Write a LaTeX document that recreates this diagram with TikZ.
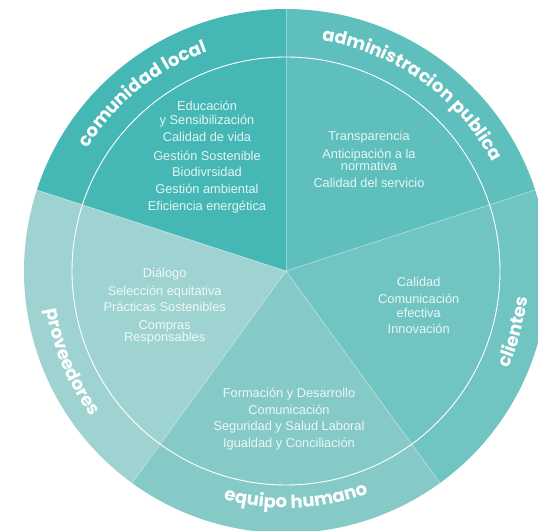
\documentclass[tikz,border=0pt]{standalone}
\usepackage{fontspec}
\usetikzlibrary{decorations.text}
\newfontfamily\itemfont{Liberation Sans}
\newfontfamily\ringfont{Poppins}
\definecolor{cCom}{HTML}{45B8B6}
\definecolor{cAdm}{HTML}{5EBFBC}
\definecolor{cCli}{HTML}{70C4C1}
\definecolor{cEqu}{HTML}{85CAC7}
\definecolor{cPro}{HTML}{9ED3D2}
\tikzset{
  item/.style={font=\itemfont\fontsize{12.8}{14}\selectfont, text=white, text opacity=0.85, anchor=base, inner sep=0pt},
  sepline/.style={white, opacity=0.35, line width=0.8pt},
  ringtext/.style={decorate, decoration={text along path, text align=center, text color=white,
     text={|\ringfont\bfseries\fontsize{18}{20}\selectfont|#1}}}
}
\begin{document}
\begin{tikzpicture}[x=1pt,y=1pt]
\useasboundingbox (-286,-259) rectangle (252,271);
\clip (-286,-259) rectangle (252,271);
\coordinate (o) at (0,0);
% sectors
\fill[cCom] (o) -- (90:262) arc[start angle=90,end angle=162,radius=262] -- cycle;
\fill[cPro] (o) -- (162:262) arc[start angle=162,end angle=234,radius=262] -- cycle;
\fill[cEqu] (o) -- (234:262) arc[start angle=234,end angle=306,radius=262] -- cycle;
\fill[cCli] (o) -- (306:262) arc[start angle=306,end angle=378,radius=262] -- cycle;
\fill[cAdm] (o) -- (18:262) arc[start angle=18,end angle=90,radius=262] -- cycle;
% separators
\foreach \a in {90,162,234,306,18} \draw[sepline] (o) -- (\a:262);
% inner circle
\draw[white, line width=0.9pt] (o) circle[radius=214];
% ring labels
\path[ringtext={comunidad local}] (o) ++(159:233) arc[start angle=159,end angle=99,radius=233];
\path[ringtext={administracion publica}] (o) ++(92:233) arc[start angle=92,end angle=17,radius=233];
\path[ringtext={clientes}] (o) ++(-40:243) arc[start angle=-40,end angle=10,radius=243];
\path[ringtext={equipo humano}] (o) ++(247:237) arc[start angle=247,end angle=298,radius=237];
\path[ringtext={proveedores}] (o) ++(178:243) arc[start angle=178,end angle=228,radius=243];
% comunidad local items
\node[item] (c1) at (-79,160.0) {Educación};
\node[item] (c2) at (-79,146.0) {y Sensibilización};
\node[item] (c3) at (-79,129.4) {Calidad de vida};
\node[item] (c4) at (-79,110.7) {Gestión Sostenible};
\node[item] (c5) at (-79,94.0) {Biodivrsidad};
\node[item] (c6) at (-79,77.7) {Gestión ambiental};
\node[item] (c7) at (-79,60.0) {Eficiencia energética};
% administracion items
\node[item] (a1) at (83,130.5) {Transparencia};
\node[item] (a2) at (83,112.9) {Anticipación a la};
\node[item] (a3) at (83,100.0) {normativa};
\node[item] (a4) at (83,83.1) {Calidad del servicio};
% clientes items
\node[item] (k1) at (132.7,-15.6) {Calidad};
\node[item] (k2) at (132.7,-32.8) {Comunicación};
\node[item] (k3) at (132.7,-46.0) {efectiva};
\node[item] (k4) at (132.7,-62.9) {Innovación};
% proveedores items
\node[item] (p1) at (-121.3,-6.5) {Diálogo};
\node[item] (p2) at (-121.3,-24.0) {Selección equitativa};
\node[item] (p3) at (-121.3,-40.9) {Prácticas Sostenibles};
\node[item] (p4) at (-121.3,-58.9) {Compras};
\node[item] (p5) at (-121.3,-70.7) {Responsables};
% equipo humano items
\node[item] (e1) at (3,-126.1) {Formación y Desarrollo};
\node[item] (e2) at (3,-143.0) {Comunicación};
\node[item] (e3) at (3,-159.9) {Seguridad y Salud Laboral};
\node[item] (e4) at (3,-176.8) {Igualdad y Conciliación};
\end{tikzpicture}
\end{document}
